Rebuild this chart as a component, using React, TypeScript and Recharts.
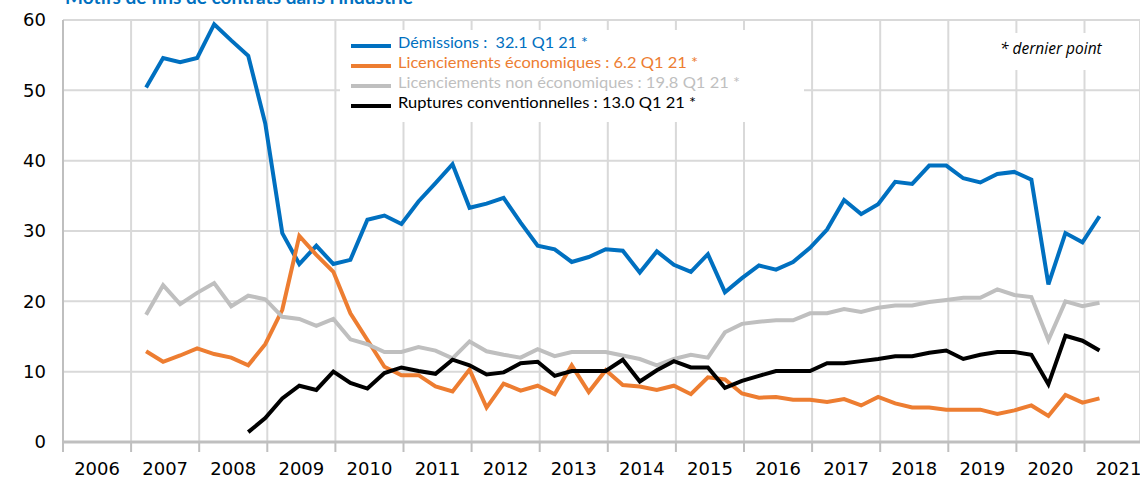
import React from "react";
import { LineChart, Line, XAxis, YAxis, CartesianGrid } from "recharts";

// quarterly series, 2007 Q1 -> 2021 Q1
const START_YEAR = 2007;
const yearTicks = [2006, 2007, 2008, 2009, 2010, 2011, 2012, 2013, 2014, 2015, 2016, 2017, 2018, 2019, 2020, 2021];
const valueTicks = [0, 10, 20, 30, 40, 50, 60];

const demissions = [
  50.4, 54.6, 54.0, 54.6,
  59.4, 57.1, 54.9, 45.3,
  29.7, 25.3, 27.9, 25.3,
  25.9, 31.6, 32.2, 31.0,
  34.2, 36.8, 39.5, 33.3,
  33.9, 34.7, 31.2, 27.9,
  27.4, 25.6, 26.3, 27.4,
  27.2, 24.1, 27.1, 25.2,
  24.2, 26.7, 21.3, 23.3,
  25.1, 24.5, 25.6, 27.6,
  30.2, 34.4, 32.4, 33.8,
  37.0, 36.7, 39.3, 39.3,
  37.5, 36.9, 38.1, 38.4,
  37.3, 22.4, 29.7, 28.4,
  32.1,
];

const licenciementsEco = [
  12.9, 11.4, 12.3, 13.3,
  12.5, 12.0, 10.9, 13.9,
  18.8, 29.3, 26.6, 24.2,
  18.3, 14.5, 10.7, 9.5,
  9.5, 7.9, 7.2, 10.3,
  4.9, 8.3, 7.3, 8.0,
  6.8, 10.9, 7.1, 10.2,
  8.1, 7.9, 7.4, 8.0,
  6.8, 9.2, 8.9, 6.9,
  6.3, 6.4, 6.0, 6.0,
  5.7, 6.1, 5.2, 6.4,
  5.5, 4.9, 4.9, 4.6,
  4.6, 4.6, 4.0, 4.5,
  5.2, 3.7, 6.7, 5.6,
  6.2,
];

const licenciementsNonEco = [
  18.1, 22.3, 19.6, 21.2,
  22.6, 19.3, 20.8, 20.3,
  17.8, 17.5, 16.5, 17.5,
  14.6, 13.9, 12.8, 12.8,
  13.5, 13.0, 11.9, 14.3,
  12.9, 12.4, 12.0, 13.2,
  12.2, 12.8, 12.8, 12.8,
  12.3, 11.8, 10.9, 11.8,
  12.4, 12.0, 15.6, 16.8,
  17.1, 17.3, 17.3, 18.3,
  18.3, 18.9, 18.5, 19.1,
  19.4, 19.4, 19.9, 20.2,
  20.5, 20.5, 21.7, 20.9,
  20.6, 14.5, 20.0, 19.3,
  19.8,
];

const ruptures = [
  null, null, null, null,
  null, null, 1.4, 3.4,
  6.2, 8.0, 7.4, 10.0,
  8.4, 7.6, 9.8, 10.6,
  10.1, 9.7, 11.7, 10.9,
  9.6, 9.9, 11.2, 11.4,
  9.4, 10.1, 10.1, 10.1,
  11.7, 8.6, 10.2, 11.5,
  10.6, 10.6, 7.7, 8.7,
  9.4, 10.1, 10.1, 10.1,
  11.2, 11.2, 11.5, 11.8,
  12.2, 12.2, 12.7, 13.0,
  11.8, 12.4, 12.8, 12.8,
  12.4, 8.2, 15.1, 14.4,
  13.0,
];

const legendItems = [
  { label: "Démissions :  32.1 Q1 21 *", color: "#0070C0", w: 190 },
  { label: "Licenciements économiques : 6.2 Q1 21 *", color: "#ED7D31", w: 300 },
  { label: "Licenciements non économiques : 19.8 Q1 21 *", color: "#BFBFBF", w: 342 },
  { label: "Ruptures conventionnelles : 13.0 Q1 21 *", color: "#000000", w: 298 },
];

const W = 1140;
const H = 478;
const PLOT_LEFT = 63;
const X_MIN = 2006;
const X_MAX = 2021.815;
const Q_OFFSET = 0.22; // where a quarter sits inside its year band
const HALF_BAND = (W - PLOT_LEFT) / (X_MAX - X_MIN) / 2;
const AXIS_FONT = "'DejaVu Sans', sans-serif";
const TEXT_FONT = "Lato, 'Open Sans', sans-serif";

const data = demissions.map((v, i) => ({
  t: START_YEAR + Math.floor(i / 4) + (i % 4) / 4 + Q_OFFSET,
  quarter: `T${(i % 4) + 1} ${START_YEAR + Math.floor(i / 4)}`,
  dem: v,
  eco: licenciementsEco[i],
  nonEco: licenciementsNonEco[i],
  rc: ruptures[i],
}));

const YearTick = (props: any) => {
  const { x, y, payload } = props;
  return (
    <text x={x + HALF_BAND} y={y + 21} textAnchor="middle" fill="#000" fontSize={18} fontFamily={AXIS_FONT}>
      {payload.value}
    </text>
  );
};

const ValueTick = (props: any) => {
  const { y, payload } = props;
  return (
    <text x={46} y={y} dy="0.36em" textAnchor="end" fill="#000" fontSize={18} fontFamily={AXIS_FONT}>
      {payload.value}
    </text>
  );
};

export default function App() {
  return (
    <div style={{ position: "absolute", left: 0, top: 0, width: W, height: H, background: "#fff" }}>
      <LineChart width={W} height={H} data={data} margin={{ top: 20, right: 0, bottom: 0, left: 0 }}>
        <CartesianGrid stroke="#D9D9D9" strokeWidth={2} />
        <XAxis
          dataKey="t"
          type="number"
          domain={[X_MIN, X_MAX]}
          ticks={yearTicks}
          allowDataOverflow
          height={36}
          tickSize={10}
          tickLine={{ stroke: "#BFBFBF", strokeWidth: 2 }}
          axisLine={{ stroke: "#BFBFBF", strokeWidth: 3 }}
          tick={<YearTick />}
        />
        <YAxis
          width={63}
          domain={[0, 60]}
          ticks={valueTicks}
          tickLine={false}
          axisLine={{ stroke: "#BFBFBF", strokeWidth: 2 }}
          tick={<ValueTick />}
        />
        <Line type="linear" dataKey="dem" stroke="#0070C0" strokeWidth={4} dot={false} isAnimationActive={false} />
        <Line type="linear" dataKey="eco" stroke="#ED7D31" strokeWidth={4} dot={false} isAnimationActive={false} />
        <Line type="linear" dataKey="nonEco" stroke="#BFBFBF" strokeWidth={4} dot={false} isAnimationActive={false} />
        <Line type="linear" dataKey="rc" stroke="#000000" strokeWidth={4} dot={false} isAnimationActive={false} />
      </LineChart>

      <svg width={W} height={H} style={{ position: "absolute", left: 0, top: 0, pointerEvents: "none" }}>
        <text x={65} y={4} fill="#0070C0" fontSize={19} fontWeight="bold" fontFamily={TEXT_FONT}>
          Motifs de fins de contrats dans l'industrie
        </text>

        <rect x={340} y={30} width={464} height={92} fill="#fff" />
        {legendItems.map((it, i) => (
          <g key={it.label}>
            <line x1={351} x2={391} y1={46 + i * 20} y2={46 + i * 20} stroke={it.color} strokeWidth={4} />
            <text
              x={398}
              y={47.5 + i * 20}
              fill={it.color}
              fontSize={15.5}
              fontFamily={TEXT_FONT}
              textLength={it.w}
              lengthAdjust="spacingAndGlyphs"
              style={{ whiteSpace: "pre" }}
            >
              {it.label}
            </text>
          </g>
        ))}

        <rect x={995} y={33} width={115} height={37} fill="#fff" />
        <text x={1000} y={54} fill="#000" fontSize={15.5} fontStyle="italic" fontFamily="'Open Sans', sans-serif">
          * dernier point
        </text>
      </svg>
    </div>
  );
}
